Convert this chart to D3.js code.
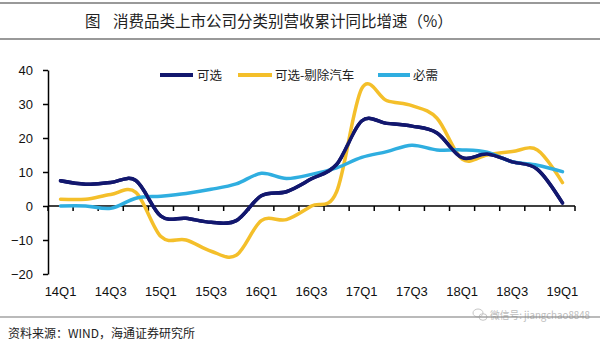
<!DOCTYPE html>
<html><head><meta charset="utf-8">
<script src="https://cdn.jsdelivr.net/npm/d3@7"></script>
<style>
html,body{margin:0;padding:0;background:#fff;}
svg{display:block;}
</style></head>
<body>
<svg id="c" width="600" height="344"></svg>
<script>
const quarters = ["14Q1","14Q2","14Q3","14Q4","15Q1","15Q2","15Q3","15Q4","16Q1","16Q2","16Q3","16Q4","17Q1","17Q2","17Q3","17Q4","18Q1","18Q2","18Q3","18Q4","19Q1"];
const tickLabels = ["14Q1","14Q3","15Q1","15Q3","16Q1","16Q3","17Q1","17Q3","18Q1","18Q3","19Q1"];
const yTicks = [-20,-10,0,10,20,30,40];
const seriesNames = ["可选","可选-剔除汽车","必需"];
const kexuan = [7.4,6.4,6.9,7.5,-3.0,-3.6,-4.8,-4.3,3.0,4.2,8.0,12.2,25.0,24.3,23.5,21.5,14.2,15.3,13.0,10.8,0.9];
const kexuanExAuto = [2.0,2.0,3.4,4.0,-9.0,-10.0,-13.3,-14.5,-4.3,-4.0,0.0,4.2,34.5,31.0,29.5,25.8,13.8,15.0,16.0,16.5,6.9];
const bixu = [0.0,0.0,-0.7,2.3,2.9,3.7,4.9,6.5,9.6,8.1,9.3,11.2,14.3,16.0,17.9,16.5,16.5,15.8,13.0,12.0,10.1];
const colors = ["#12176E","#F4BF2A","#2FAEE0"];

const svg = d3.select("#c");
const CJK = "'Noto Sans CJK SC','Noto Sans',sans-serif";
const LAT = "'Liberation Sans',Arial,sans-serif";

// title rules
svg.append("line").attr("x1",0).attr("x2",600).attr("y1",3).attr("y2",3).attr("stroke","#777").attr("stroke-width",1.5);
svg.append("line").attr("x1",0).attr("x2",600).attr("y1",39).attr("y2",39).attr("stroke","#777").attr("stroke-width",1.5);
svg.append("text").attr("x",85).attr("y",27).attr("font-family",CJK).attr("font-size",15.5).attr("fill","#222").text("图");
svg.append("text").attr("x",113).attr("y",27).attr("font-family",CJK).attr("font-size",15.5).attr("fill","#222").text("消费品类上市公司分类别营收累计同比增速（%）");

const x = d3.scaleBand().domain(quarters).range([48,575]);
const cx = q => x(q) + x.bandwidth()/2;
const y = d3.scaleLinear().domain([-20,40]).range([274,70]);

// y axis
const ya = svg.append("g").attr("transform","translate(48,0)")
  .call(d3.axisLeft(y).tickValues(yTicks).tickSize(5).tickSizeOuter(0).tickPadding(10));
ya.selectAll("path,line").attr("stroke","#000").attr("stroke-width",1.5);
ya.selectAll("text").attr("font-family",LAT).attr("font-size",13).attr("fill","#111");

// x axis line at zero with ticks at category boundaries
svg.append("line").attr("x1",48).attr("x2",575).attr("y1",y(0)).attr("y2",y(0)).attr("stroke","#000").attr("stroke-width",1.5);
const bounds = quarters.map(q => x(q)).concat([x.range()[1]]);
svg.selectAll(".xt").data(bounds).enter().append("line")
  .attr("x1",d=>d).attr("x2",d=>d).attr("y1",y(0)).attr("y2",y(0)+5)
  .attr("stroke","#000").attr("stroke-width",1.5);
const xa = svg.append("g").attr("transform","translate(0,275)")
  .call(d3.axisBottom(x).tickValues(tickLabels).tickSize(0).tickPadding(12));
xa.select(".domain").remove();
xa.selectAll("text").attr("font-family",LAT).attr("font-size",13).attr("fill","#111");

// lines
const series = [kexuan, kexuanExAuto, bixu];
const line = d3.line().x((d,i)=>cx(quarters[i])).y(d=>y(d)).curve(d3.curveCardinal.tension(0));
series.forEach((s,k)=>{
  svg.append("path").datum(s).attr("d",line).attr("fill","none")
    .attr("stroke",colors[k]).attr("stroke-width",3.5).attr("stroke-linejoin","round").attr("stroke-linecap","round");
});
svg.append("path").datum(kexuan).attr("d",line).attr("fill","none").attr("stroke",colors[0]).attr("stroke-width",3.5).attr("stroke-linecap","round");

// legend
const leg = [{x1:160,x2:193,tx:197},{x1:238,x2:272,tx:275},{x1:378,x2:410,tx:413}];
leg.forEach((l,k)=>{
  svg.append("line").attr("x1",l.x1).attr("x2",l.x2).attr("y1",75).attr("y2",75).attr("stroke",colors[k]).attr("stroke-width",4);
  svg.append("text").attr("x",l.tx).attr("y",79.5).attr("font-family",CJK).attr("font-size",12.5).attr("fill","#222").text(seriesNames[k]);
});

// source
svg.append("line").attr("x1",0).attr("x2",600).attr("y1",317).attr("y2",317).attr("stroke","#777").attr("stroke-width",1.2);
svg.append("text").attr("x",8).attr("y",338).attr("font-family",CJK).attr("font-size",12).attr("fill","#222").text("资料来源：WIND，海通证券研究所");
// watermark
const wm = svg.append("g").attr("opacity",0.55);
wm.append("ellipse").attr("cx",478).attr("cy",313).attr("rx",5).attr("ry",4).attr("fill","none").attr("stroke","#999").attr("stroke-width",1);
wm.append("ellipse").attr("cx",483).attr("cy",317).attr("rx",4).attr("ry",3.3).attr("fill","none").attr("stroke","#999").attr("stroke-width",1);
wm.append("text").attr("x",490).attr("y",319).attr("font-family",CJK).attr("font-size",10.5).attr("fill","#888")
  .attr("textLength",100).attr("lengthAdjust","spacingAndGlyphs").text("微信号: jiangchao8848");
</script>
</body></html>
